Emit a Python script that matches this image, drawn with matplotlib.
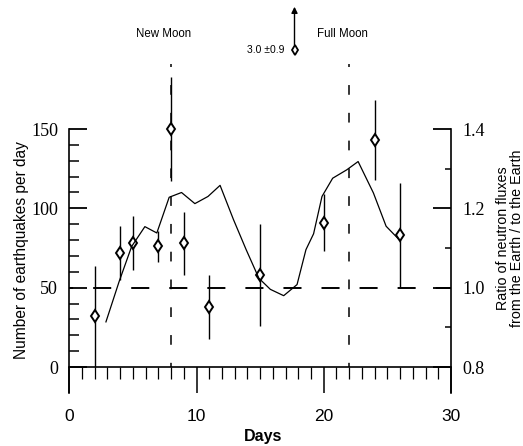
import matplotlib
matplotlib.use("Agg")
import matplotlib.pyplot as plt
from matplotlib.ticker import FixedLocator, MultipleLocator

plt.rcParams['lines.scale_dashes'] = False

# ---- data ----
quake_days = [2, 4, 5, 7, 8, 9, 11, 15, 20, 24, 26]
quake_counts = [32, 72, 78, 76, 150, 78, 38, 58, 91, 143, 83]
quake_err = [32, 17, 17, 10, 33, 20, 20, 32, 18, 25, 33]

flux_days = [2.88, 3.92, 4.9, 5.94, 6.88, 7.85, 8.82, 9.87, 10.9, 11.85, 12.9,
             13.9, 14.9, 15.8, 16.85, 17.9, 18.6, 19.2, 19.86, 20.7, 21.8,
             22.7, 23.9, 24.9, 25.9]
flux_ratio = [0.914, 1.016, 1.104, 1.154, 1.138, 1.228, 1.240, 1.212, 1.230,
              1.258, 1.172, 1.096, 1.024, 0.996, 0.980, 1.008, 1.096, 1.136,
              1.230, 1.276, 1.297, 1.318, 1.239, 1.155, 1.122]

moon_days = [8, 22]
moon_labels = ["New Moon", "Full Moon"]
offscale_day = 17.7
offscale_label = "3.0 \u00b10.9"

left_ticks = [0, 50, 100, 150]
right_ticks = [0.8, 1.0, 1.2, 1.4]
x_ticks = [0, 10, 20, 30]

# ---- figure ----
fig = plt.figure(figsize=(5.23, 4.46), dpi=100)
ax = fig.add_axes([69.3 / 523, 53 / 446, (451 - 69.3) / 523, 264 / 446])
ymin, ymax = -16.3, 150
ax.set_xlim(0, 30)
ax.set_ylim(ymin, ymax)
ax2 = ax.twinx()
ax2.set_ylim(0.8 + 0.004 * ymin, 0.8 + 0.004 * ymax)

for a in (ax, ax2):
    a.spines['top'].set_visible(False)
    for s in a.spines.values():
        s.set_linewidth(1.2)
ax.spines['bottom'].set_position(('data', 0))
ax2.spines['bottom'].set_visible(False)
ax2.spines['left'].set_visible(False)
ax.spines['right'].set_visible(False)

serif = 'Liberation Serif'
narrow = ['Liberation Sans Narrow', 'Liberation Sans']

# left axis ticks
ax.yaxis.set_major_locator(FixedLocator(left_ticks))
ax.yaxis.set_minor_locator(FixedLocator([v for v in range(10, 150, 10) if v % 50]))
ax.tick_params(axis='y', which='major', direction='in', length=13, width=1.3, pad=8)
ax.tick_params(axis='y', which='minor', direction='in', length=7, width=1.1)
ax.set_yticks(left_ticks)
ax.set_yticklabels([str(v) for v in left_ticks], fontfamily=serif, fontsize=13)

# bottom ticks
ax.xaxis.set_major_locator(FixedLocator(x_ticks))
ax.xaxis.set_minor_locator(MultipleLocator(1))
ax.tick_params(axis='x', which='major', direction='out', length=18.7, width=1.1, pad=11.5)
ax.tick_params(axis='x', which='minor', direction='out', length=8.6, width=0.9)
ax.set_xticks(x_ticks)
ax.set_xticklabels([str(v) for v in x_ticks], fontfamily='Liberation Sans', fontsize=12.5)

# right axis ticks
ax2.yaxis.set_major_locator(FixedLocator(right_ticks))
ax2.yaxis.set_minor_locator(FixedLocator([0.9, 1.1, 1.3]))
ax2.tick_params(axis='y', which='major', direction='in', length=13, width=1.3, pad=8)
ax2.tick_params(axis='y', which='minor', direction='in', length=4, width=1.1)
ax2.set_yticks(right_ticks)
ax2.set_yticklabels(["%.1f" % v for v in right_ticks], fontfamily=serif, fontsize=13)

# reference dashed line at ratio 1.0
ax2.plot([0, 30], [1.0, 1.0], color='black', lw=1.4, linestyle=(10, (13, 14.4)))

# moon phase lines
for d in moon_days:
    ax.plot([d, d], [0, 191], color='black', lw=1.1, linestyle=(4, (7, 13)), clip_on=False)

ax.text(7.37, 210, moon_labels[0], ha='center', va='center', fontsize=8.3, family=narrow)
ax.text(21.5, 210, moon_labels[1], ha='center', va='center', fontsize=8.3, family=narrow)

# neutron flux curve
ax2.plot(flux_days, flux_ratio, color='black', lw=0.9)

# earthquake points
eb = ax.errorbar(quake_days, quake_counts, yerr=quake_err, fmt='d', color='black',
                 mfc='white', mec='black', mew=1.4, ms=6, elinewidth=1.0, capsize=0,
                 zorder=5)
for art in eb.get_children():
    art.set_clip_on(False)

# off-scale point
ax.plot([offscale_day], [200], marker='d', color='black', mfc='white', mew=1.3,
        ms=5.5, clip_on=False)
ax.annotate('', xy=(offscale_day, 227), xytext=(offscale_day, 203),
            arrowprops=dict(arrowstyle='-|>', color='black', lw=1.0,
                            mutation_scale=9, shrinkA=0, shrinkB=0),
            annotation_clip=False)
ax.text(16.95, 199.5, offscale_label, ha='right', va='center', fontsize=7.5, family=narrow)

# axis labels
fig.text(21.7 / 523, 1 - 250 / 446, "Number of earthquakes per day", rotation=90,
         ha='center', va='center', fontsize=11.2, family='Liberation Sans')
fig.text(510 / 523, 1 - 238 / 446, "Ratio of neutron fluxes\nfrom the Earth / to the Earth",
         rotation=90, ha='center', va='center', fontsize=10.3, family='Liberation Sans',
         linespacing=0.95)
fig.text(263 / 523, 1 - 437 / 446, "Days", ha='center', va='center', fontsize=11.5,
         fontweight='bold', family='Liberation Sans')

fig.savefig("out.png", dpi=100)
